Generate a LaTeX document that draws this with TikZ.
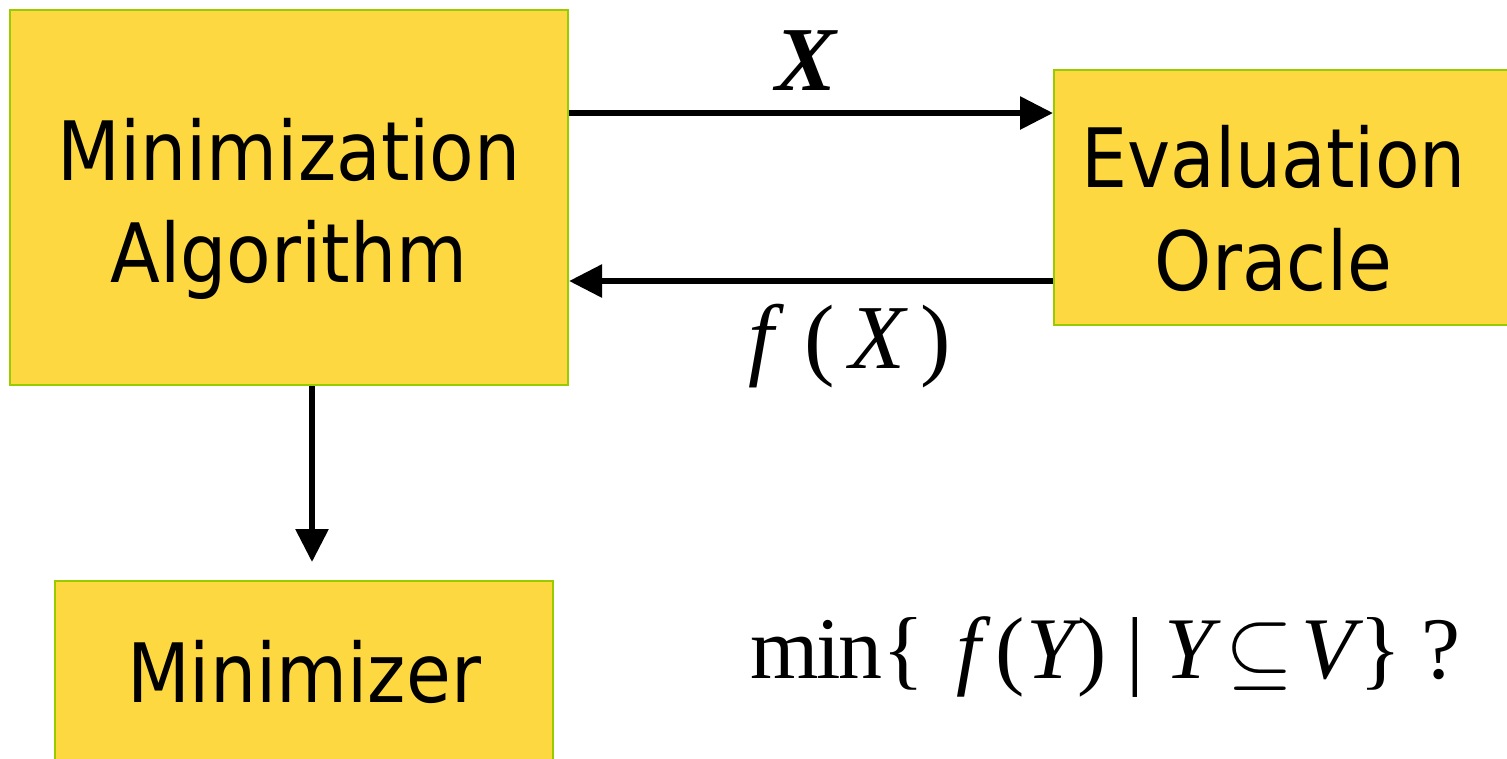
\documentclass[tikz,border=0pt]{standalone}
\usepackage{fontspec}
\setmainfont{DejaVu Sans}[FakeStretch=0.89]
\newfontfamily\tms{Liberation Serif}
\usetikzlibrary{arrows.meta,positioning}
\definecolor{boxyellow}{RGB}{254,216,64}
\definecolor{boxgreen}{RGB}{153,204,0}

\begin{document}
\begin{tikzpicture}[
    box/.style={draw=boxgreen, line width=0.6pt, fill=boxyellow, align=center, inner sep=0pt, font=\fontsize{23.3}{29.3}\selectfont},
    arr/.style={-{Triangle[length=3.3mm, width=3.2mm]}, line width=1.7pt},
    lbl/.style={inner sep=0pt, font=\tms\fontsize{26}{30}\selectfont}
]
\useasboundingbox (0,0) rectangle (15.07,-7.58);

\node[box, minimum width=5.58cm, minimum height=3.75cm] (alg) at (2.89,-1.975) {\rule{0pt}{0.85cm}Minimization\\Algorithm};
\node[box, minimum width=4.67cm, minimum height=2.55cm, anchor=west] (orc) at (10.53,-1.975) {\rule{0pt}{0.85cm}Evaluation\hspace*{0.28cm}\\Oracle\hspace*{0.28cm}};
\node[box, minimum width=4.98cm, minimum height=1.82cm, anchor=north] (res) at (3.04,-5.80) {Minimizer};
\node[lbl, font=\tms\fontsize{25}{29}\selectfont, anchor=base west] (goal) at (7.50,-6.78)
    {m\kern-0.03cmi\kern-0.02cmn\{\hspace{0.32cm}{\itshape f}\,(\kern0.02cm{\itshape Y}\kern0.02cm)\hspace{0.2cm}|\hspace{0.2cm}{\itshape Y}\kern0.12cm$\subseteq$\kern0.08cm{\itshape V}\kern0.04cm\}\kern0.2cm?};

% query and answer
\draw[arr] ([yshift=0.845cm]alg.east) -- node[lbl, above=0.20cm, xshift=-0.05cm] (qry) {\bfseries\itshape X} ([yshift=0.845cm]orc.west);
\draw[arr] ([yshift=-0.835cm]orc.west) -- node[lbl, pos=0.42, below=0.20cm] (ans) {{\itshape f}\,\,(\,{\itshape X}\,)} ([yshift=-0.835cm]alg.east);

\coordinate (drop) at (3.12,-5.62);
\draw[arr] (alg.south -| drop) -- (drop);
\end{tikzpicture}
\end{document}
